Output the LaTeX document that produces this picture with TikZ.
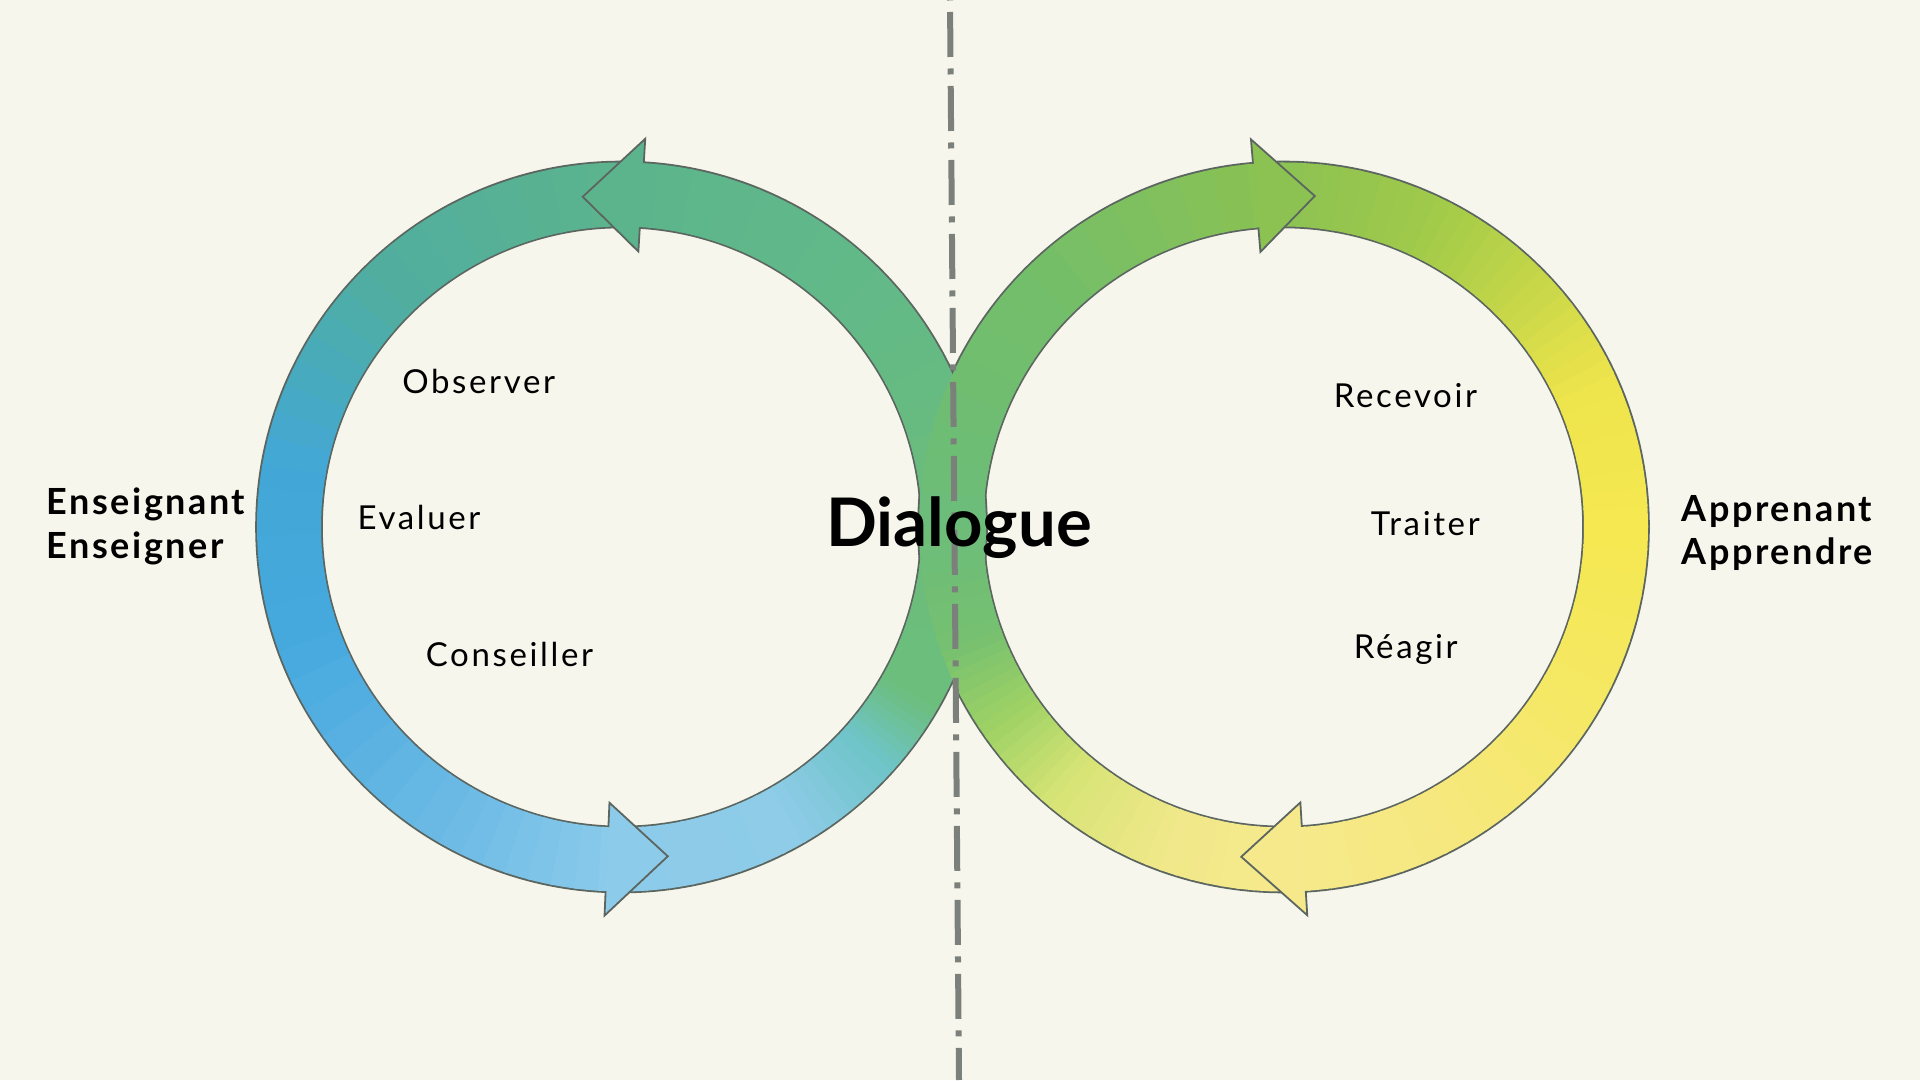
\documentclass[tikz,border=0pt]{standalone}
\usepackage{fontspec}
\setmainfont{Lato}
\newfontfamily\verbfont{Lato}[LetterSpace=8]
\newfontfamily\rolefont{Lato}[LetterSpace=7]
\usetikzlibrary{calc,positioning}
\definecolor{paper}{RGB}{247,246,236}
\definecolor{edge}{RGB}{92,102,96}
\definecolor{dashgray}{RGB}{123,128,123}
% left ring (teacher) colours, by angle
\definecolor{l000}{RGB}{108,189,122}
\definecolor{l045}{RGB}{98,185,136}
\definecolor{l090}{RGB}{92,180,140}
\definecolor{l135}{RGB}{80,174,160}
\definecolor{l170}{RGB}{66,167,214}
\definecolor{l200}{RGB}{70,169,222}
\definecolor{l240}{RGB}{108,186,230}
\definecolor{l270}{RGB}{140,203,234}
\definecolor{l300}{RGB}{142,204,232}
\definecolor{l318}{RGB}{110,196,200}
\definecolor{l330}{RGB}{108,190,125}
% right ring (learner) colours, by angle
\definecolor{r000}{RGB}{245,232,80}
\definecolor{r025}{RGB}{238,228,76}
\definecolor{r045}{RGB}{196,214,72}
\definecolor{r065}{RGB}{160,202,74}
\definecolor{r090}{RGB}{140,194,82}
\definecolor{r135}{RGB}{115,190,105}
\definecolor{r180}{RGB}{108,189,122}
\definecolor{r200}{RGB}{118,192,112}
\definecolor{r215}{RGB}{160,210,100}
\definecolor{r230}{RGB}{215,228,118}
\definecolor{r250}{RGB}{240,232,138}
\definecolor{r270}{RGB}{246,233,140}
\definecolor{r300}{RGB}{246,232,125}
\definecolor{r330}{RGB}{245,232,100}
\newcommand*{\rout}{364.5}% outer radius of a ring
\newcommand*{\rin}{300.5}% inner radius of a ring
\newcommand*{\rmid}{332.5}% tip radius of a head
\newcommand*{\rhout}{389}% outer barb
\newcommand*{\rhin}{276}% inner barb
\tikzset{%
  ringline/.style={draw=edge, line width=3.6pt},% doubled, half is hidden
  headline/.style={draw=edge, line width=1.8pt, line join=miter},
  verb/.style={font=\verbfont\fontsize{33}{40}\selectfont, inner sep=0pt, anchor=base},
  rolelabel/.style={font=\rolefont\bfseries\fontsize{36}{44}\selectfont, inner sep=0pt, anchor=base west},
  dialog/.style={font=\bfseries\fontsize{67}{76}\selectfont, inner sep=0pt, anchor=base},
  axis/.style={draw=dashgray, line width=6pt, dash pattern=on 45pt off 11.5pt on 6pt off 11.5pt, dash phase=62pt}
}
\newcommand*{\ringseg}[4]{% centre, from, to, colour
  \fill[#4, shift={(#1)}] (#2:\rout) arc[start angle=#2, end angle=#3, radius=\rout]
    -- (#3:\rin) arc[start angle=#3, end angle=#2, radius=\rin] -- cycle;}
\newcommand*{\ringshade}[2]{% centre, list of from/to/colour/colour
  \foreach \a/\b/\ca/\cb in {#2}{
    \foreach \t in {0,...,7}{
      \pgfmathsetmacro\s{\a+(\b-\a)*\t/8}
      \pgfmathsetmacro\e{\a+(\b-\a)*(\t+1)/8+0.5}
      \pgfmathtruncatemacro\p{100-(\t+0.5)*100/8}
      \ringseg{#1}{\s}{\e}{\ca!\p!\cb}
    }}}
\newcommand*{\ringhead}[4]{% centre, back angle, tip angle, colour
  \fill[#4, shift={(#1)}] (#2:\rhout) -- (#3:\rmid) -- (#2:\rhin) -- cycle;
  \draw[headline, shift={(#1)}] (#2:\rout) -- (#2:\rhout) -- (#3:\rmid) -- (#2:\rhin) -- (#2:\rin);}

\begin{document}
\begin{tikzpicture}[x=1pt, y=1pt]
\useasboundingbox (0,0) rectangle (1920,1080);
\fill[paper] (0,0) rectangle (1920,1080);
\coordinate (L) at (621.5,553);
\coordinate (R) at (1283.5,553);
\coordinate (axtop) at (950,1080);
\coordinate (axbot) at (959,0);

%% outlines first, the bands hide their inner half
\draw[ringline] (L) circle[radius=\rout];
\draw[ringline] (L) circle[radius=\rin];
\draw[ringline] (R) circle[radius=\rout];
\draw[ringline] (R) circle[radius=\rin];

%% bands
\ringshade{L}{0/45/l000/l045, 45/90/l045/l090, 90/135/l090/l135, 135/170/l135/l170,
  170/200/l170/l200, 200/240/l200/l240, 240/270/l240/l270, 270/300/l270/l300,
  300/318/l300/l318, 318/330/l318/l330, 330/360/l330/l000}
\ringshade{R}{0/25/r000/r025, 25/45/r025/r045, 45/65/r045/r065, 65/90/r065/r090,
  90/135/r090/r135, 135/180/r135/r180, 180/200/r180/r200, 200/215/r200/r215,
  215/230/r215/r230, 230/250/r230/r250, 250/270/r250/r270, 270/300/r270/r300,
  300/330/r300/r330, 330/360/r330/r000}

%% heads
\ringhead{L}{86.5}{96.7}{l090}
\ringhead{L}{267.5}{278}{l270}
\ringhead{R}{94.8}{84.6}{r090}
\ringhead{R}{273.5}{262.7}{r270}

\draw[axis] (axtop) -- (axbot);

\node[verb] (observer) at (478.7,686.7) {Observer};
\node[verb] (evaluer) at (419,550) {Evaluer};
\node[verb] (conseiller) at (509.5,413.3) {Conseiller};
\node[verb] (recevoir) at (1405.5,672.7) {Recevoir};
\node[verb] (traiter) at (1425.3,544) {Traiter};
\node[verb] (reagir) at (1405.8,421.7) {Réagir};
\node[dialog] (dialogue) at (959,533) {Dialogue};

\node[rolelabel] (ens1) at (46.5,565) {Enseignant};
\node[rolelabel] (ens2) at ([yshift=-43.5pt]ens1.base west) {Enseigner};
\node[rolelabel] (app1) at (1681.7,558.3) {Apprenant};
\node[rolelabel] (app2) at ([yshift=-43.3pt]app1.base west) {Apprendre};
\end{tikzpicture}
\end{document}
